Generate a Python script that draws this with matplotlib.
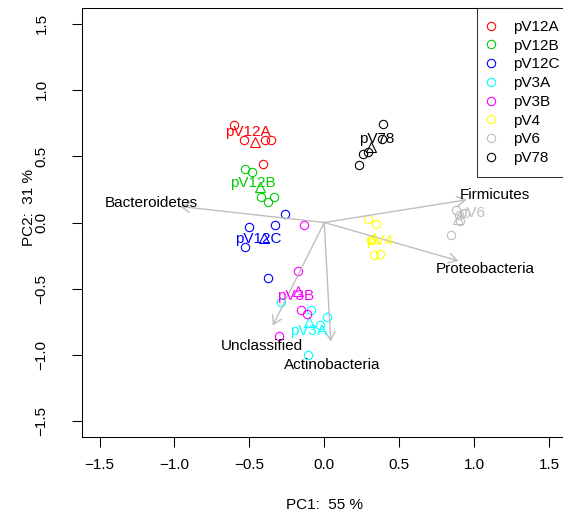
import numpy as np
import matplotlib
matplotlib.use("Agg")
import matplotlib.pyplot as plt

plt.rcParams["font.family"] = ["Liberation Sans", "DejaVu Sans"]
plt.rcParams["font.size"] = 11

# groups and their colours (R palette order)
groups = ["pV12A", "pV12B", "pV12C", "pV3A", "pV3B", "pV4", "pV6", "pV78"]
colors = ["#FF0000", "#00CD00", "#0000FF", "#00FFFF", "#FF00FF", "#FFFF00", "#BEBEBE", "#000000"]

# sample scores, 5 samples per group, same order as groups
sample_group = np.repeat(groups, 5)
pc1 = [-0.603, -0.536, -0.396, -0.356, -0.409,
       -0.529, -0.481, -0.423, -0.378, -0.336,
       -0.263, -0.329, -0.501, -0.529, -0.374,
       -0.291, -0.089, 0.020, -0.029, -0.107,
       -0.134, -0.174, -0.156, -0.113, -0.300,
       0.294, 0.343, 0.334, 0.372, 0.312,
       0.879, 0.899, 0.908, 0.844, 0.939,
       0.394, 0.383, 0.260, 0.294, 0.234]
pc2 = [0.736, 0.623, 0.623, 0.623, 0.442,
       0.405, 0.380, 0.196, 0.158, 0.196,
       0.066, -0.017, -0.035, -0.181, -0.419,
       -0.603, -0.658, -0.713, -0.776, -0.997,
       -0.017, -0.362, -0.663, -0.688, -0.859,
       0.028, -0.010, -0.243, -0.238, -0.130,
       0.096, 0.053, 0.008, -0.093, 0.073,
       0.744, 0.628, 0.518, 0.528, 0.433]

# where the group names are written
label_x = [-0.507, -0.474, -0.441, -0.107, -0.191, 0.372, 0.984, 0.350]
label_y = [0.683, 0.297, -0.125, -0.821, -0.552, -0.138, 0.071, 0.631]

# taxa loadings (arrows)
taxa = ["Bacteroidetes", "Firmicutes", "Proteobacteria", "Unclassified", "Actinobacteria"]
load1 = [-0.963, 0.951, 0.895, -0.344, 0.043]
load2 = [0.121, 0.171, -0.289, -0.778, -0.897]

ticks = [-1.5, -1.0, -0.5, 0.0, 0.5, 1.0, 1.5]

W, H = 563, 513
fig = plt.figure(figsize=(W / 100, H / 100), dpi=100)
ax = fig.add_axes([82 / W, (H - 437) / H, (566.5 - 82) / W, (437 - 8) / H])

pc1 = np.array(pc1)
pc2 = np.array(pc2)
sample_group = np.array(sample_group)

# arrows first so points sit on top
for name, lx, ly in zip(taxa, load1, load2):
    ax.annotate("", xy=(lx, ly), xytext=(0, 0),
                arrowprops=dict(arrowstyle="->,head_length=0.6,head_width=0.35",
                                color="#BEBEBE", lw=1, shrinkA=0, shrinkB=0,
                                mutation_scale=10))
    ax.text(lx * 1.2, ly * 1.2, name, ha="center", va="center", color="black")

for g, col, tx, ty in zip(groups, colors, label_x, label_y):
    m = sample_group == g
    ax.plot(pc1[m], pc2[m], "o", ms=6, mfc="none", mec=col, mew=0.8, label=g)
    ax.plot(pc1[m].mean(), pc2[m].mean(), "^", ms=6.5, mfc="none", mec=col, mew=0.8)
    ax.text(tx, ty, g, ha="center", va="center", color=col)

ax.set_xlim(-1.617, 1.617)
ax.set_ylim(-1.617, 1.617)
ax.set_xticks(ticks)
ax.set_yticks(ticks)
ax.set_xticklabels([f"{t:.1f}".replace("-", "\u2212") for t in ticks])
ax.set_yticklabels([f"{t:.1f}".replace("-", "\u2212") for t in ticks])
for s in ax.spines.values():
    s.set_linewidth(0.75)
ax.tick_params(axis="both", direction="out", length=7, width=0.75)
ax.tick_params(axis="x", pad=8)
ax.tick_params(axis="y", pad=17, labelrotation=90)
for lab in ax.get_yticklabels():
    lab.set_va("center")

leg_left = (477 - 82) / (566.5 - 82)
leg = ax.legend(loc="upper left", bbox_to_anchor=(leg_left, 1), borderaxespad=0,
                frameon=True, fancybox=False, handlelength=0.26,
                handletextpad=1.31, borderpad=0.78, labelspacing=0.31)
leg.get_frame().set_edgecolor("black")
leg.get_frame().set_linewidth(0.75)

fig.text(0.5 * (82 + 566.5) / W, (H - 505) / H, "PC1:  55 %", ha="center", va="center")
fig.text(29 / W, (H - 207) / H, "PC2:  31 %", ha="center", va="center", rotation=90)

fig.savefig("out.png", dpi=100)
